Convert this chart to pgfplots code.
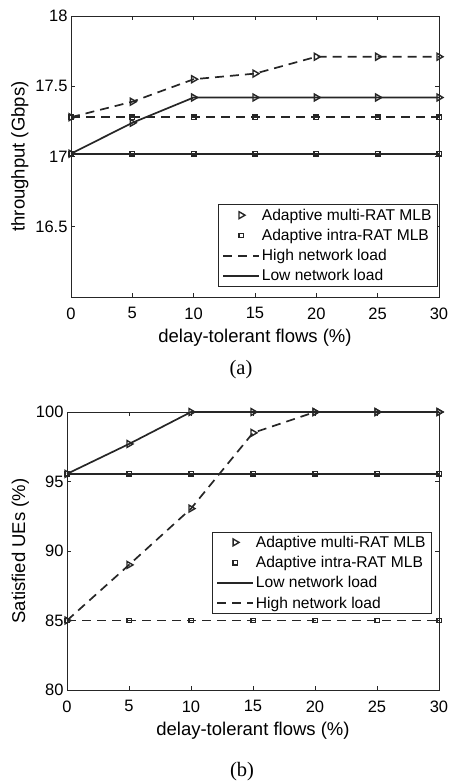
\documentclass[border=0pt]{standalone}
\usepackage{fontspec}
\setmainfont{Liberation Sans}
\newfontfamily\capfont{Liberation Serif}
\usepackage{pgfplots}
\pgfplotsset{compat=1.18}
\definecolor{lc}{RGB}{38,38,38}
\pgfplotsset{
 mystyle/.style={
  scale only axis,
  xmin=0, xmax=30, xtick={0,5,...,30},
  clip=false,
  axis line style={lc, line width=1pt},
  tick style={lc, line width=1pt},
  major tick length=4pt,
  tick label style={font=\fontsize{16.5}{19}\selectfont, text=black},
  xticklabel style={yshift=-7pt},
  label style={font=\fontsize{18.5}{22}\selectfont},
  xlabel style={yshift=-3pt},
  /pgf/number format/assume math mode=true,
  legend style={font=\fontsize{15.6}{18}\selectfont, draw=lc, line width=0.8pt, inner xsep=4pt, inner ysep=2pt, row sep=3.5pt},
  legend cell align=left,
  legend image code/.code={\draw[#1] (0pt,0pt) -- (36pt,0pt);},
  every axis plot/.append style={lc, line width=1.7pt},
  xlabel={delay-tolerant flows (\%)},
 },
 tri/.style={mark=triangle, mark size=4pt, mark options={solid, rotate=-90, line width=1.4pt}},
 sq/.style={mark=square, mark size=2.2pt, mark options={solid, line width=1.4pt}},
 hi/.style={dash pattern=on 9pt off 6pt},
 trileg/.style={legend image code/.code={\draw[lc, line width=1.4pt] plot[mark=triangle, mark size=4pt, mark options={rotate=-90}] coordinates {(18pt,0pt)};}},
 sqleg/.style={legend image code/.code={\draw[lc, line width=1.4pt] plot[mark=square, mark size=2.2pt] coordinates {(18pt,0pt)};}},
}
\begin{document}
\begin{tikzpicture}
\useasboundingbox (0,0) rectangle (450pt,-782pt);
\begin{axis}[mystyle,
  at={(71pt,-297pt)}, anchor=south west,
  width=368pt, height=281pt,
  ymin=16, ymax=18, ytick={16.5,17,17.5,18},
  ylabel={throughput (Gbps)},
  legend style={at={(0.997,0.036)}, anchor=south east},
]
\addplot[hi, tri, forget plot] coordinates {(0,17.28)(5,17.39)(10,17.55)(15,17.59)(20,17.71)(25,17.71)(30,17.71)};
\addplot[tri, forget plot] coordinates {(0,17.02)(5,17.24)(10,17.42)(15,17.42)(20,17.42)(25,17.42)(30,17.42)};
\addplot[hi, sq, forget plot] coordinates {(0,17.28)(5,17.28)(10,17.28)(15,17.28)(20,17.28)(25,17.28)(30,17.28)};
\addplot[sq, forget plot] coordinates {(0,17.02)(5,17.02)(10,17.02)(15,17.02)(20,17.02)(25,17.02)(30,17.02)};
\addlegendimage{trileg}
\addlegendentry{Adaptive multi-RAT MLB}
\addlegendimage{sqleg}
\addlegendentry{Adaptive intra-RAT MLB}
\addlegendimage{lc, line width=1.7pt, hi}
\addlegendentry{High network load}
\addlegendimage{lc, line width=1.7pt}
\addlegendentry{Low network load}
\end{axis}
\node[font=\capfont\fontsize{20.5}{24}\selectfont] at (241pt,-370pt) {(a)};
\begin{axis}[mystyle,
  at={(67pt,-690pt)}, anchor=south west,
  width=372pt, height=278pt,
  ymin=80, ymax=100, ytick={80,85,...,100},
  ylabel={Satisfied UEs (\%)},
  legend style={at={(0.981,0.273)}, anchor=south east},
]
\addplot[tri, forget plot] coordinates {(0,95.55)(5,97.7)(10,100)(15,100)(20,100)(25,100)(30,100)};
\addplot[sq, forget plot] coordinates {(0,95.55)(5,95.55)(10,95.55)(15,95.55)(20,95.55)(25,95.55)(30,95.55)};
\addplot[hi, tri, forget plot] coordinates {(0,85)(5,89)(10,93.05)(15,98.5)(20,100)(25,100)(30,100)};
\addplot[hi, sq, forget plot] coordinates {(0,85)(5,85)(10,85)(15,85)(20,85)(25,85)(30,85)};
\addlegendimage{trileg}
\addlegendentry{Adaptive multi-RAT MLB}
\addlegendimage{sqleg}
\addlegendentry{Adaptive intra-RAT MLB}
\addlegendimage{lc, line width=1.7pt}
\addlegendentry{Low network load}
\addlegendimage{lc, line width=1.7pt, hi}
\addlegendentry{High network load}
\end{axis}
\node[font=\capfont\fontsize{20.5}{24}\selectfont] at (242pt,-772pt) {(b)};
\end{tikzpicture}
\end{document}
